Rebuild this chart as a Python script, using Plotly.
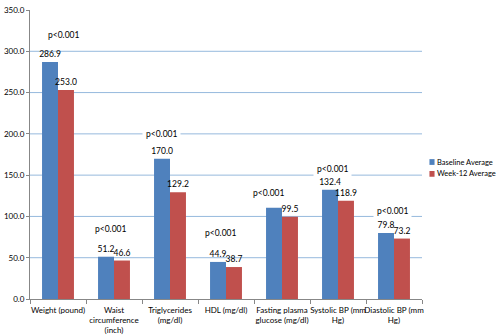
import plotly.graph_objects as go

categories = ["Weight (pound)", "Waist<br>circumference<br>(inch)", "Triglycerides<br>(mg/dl)",
              "HDL (mg/dl)", "Fasting plasma<br>glucose (mg/dl)", "Systolic BP (mm<br>Hg)",
              "Diastolic BP (mm<br>Hg)"]
baseline = [286.9, 51.2, 170.0, 44.9, 110.5, 132.4, 79.8]
week12 = [253.0, 46.6, 129.2, 38.7, 99.5, 118.9, 73.2]
baseline_labels = ["286.9", "51.2", "170.0", "44.9", "", "132.4", "79.8"]
week12_labels = ["253.0", "46.6", "129.2", "38.7", "99.5", "118.9", "73.2"]
series_names = ["Baseline Average", "Week-12 Average"]
series_colors = ["#4F81BD", "#C0504D"]
p_text = ["p<0.001"] * 7
p_xoff = [0.1, -0.07, -0.15, -0.1, -0.25, -0.1, -0.02]
p_y = [320, 85, 200, 80, 128, 157, 107]
y_ticks = [0, 50, 100, 150, 200, 250, 300, 350]

FONT = "Lato"
FS = 8.5
FS_SMALL = 8
FS_LEG = 7.5
fig = go.Figure()
for vals, labs, name, col in zip([baseline, week12], [baseline_labels, week12_labels],
                                 series_names, series_colors):
    fig.add_trace(go.Bar(x=categories, y=vals, name=name, showlegend=False,
                         marker=dict(color=col, line=dict(width=0)),
                         text=labs, textposition="outside", cliponaxis=False,
                         constraintext="none",
                         textfont=dict(size=FS, color="#000000", family=FONT)))

for v in y_ticks[1:-1]:
    fig.add_shape(type="line", xref="paper", yref="y", x0=0, x1=1, y0=v, y1=v,
                  line=dict(color="#96B9DD", width=1), layer="below")

for i, (t, dx, yv) in enumerate(zip(p_text, p_xoff, p_y)):
    fig.add_annotation(x=i + dx, y=yv, xref="x", yref="y", text=t, showarrow=False,
                       bgcolor="white", borderpad=3,
                       font=dict(size=FS, color="#000000", family=FONT))

# manual legend
leg_y = [0.474, 0.433]
for name, col, ly in zip(series_names, series_colors, leg_y):
    fig.add_shape(type="rect", xref="paper", yref="paper",
                  x0=1.019, x1=1.032, y0=ly - 0.01, y1=ly + 0.01,
                  fillcolor=col, line=dict(width=0))
    fig.add_annotation(x=1.034, y=ly, xref="paper", yref="paper", text=name,
                       showarrow=False, xanchor="left", yanchor="middle",
                       font=dict(size=FS_LEG, color="#000000", family=FONT))

fig.update_layout(
    width=500, height=336,
    margin=dict(l=30, r=78, t=10, b=37),
    paper_bgcolor="white", plot_bgcolor="white",
    barmode="group", bargap=0.43, bargroupgap=0,
    font=dict(family=FONT, size=FS, color="#000000"),
    showlegend=False,
)
fig.update_xaxes(type="category", showline=True, linecolor="#878787", linewidth=1,
                 ticks="outside", tickson="boundaries", ticklen=4, tickcolor="#878787",
                 tickangle=0, automargin=False, ticklabelstandoff=3,
                 tickfont=dict(size=FS_SMALL, family=FONT), showgrid=False)
fig.update_yaxes(range=[0, 350], tickvals=y_ticks, tickformat=".1f",
                 showline=True, linecolor="#878787", linewidth=1,
                 ticks="outside", ticklen=3, tickcolor="#878787", automargin=False,
                 showgrid=False, zeroline=False, tickfont=dict(size=FS_SMALL, family=FONT))

fig.write_html("out.html", config={"displayModeBar": False},
               post_script="document.body.style.margin='0';")
